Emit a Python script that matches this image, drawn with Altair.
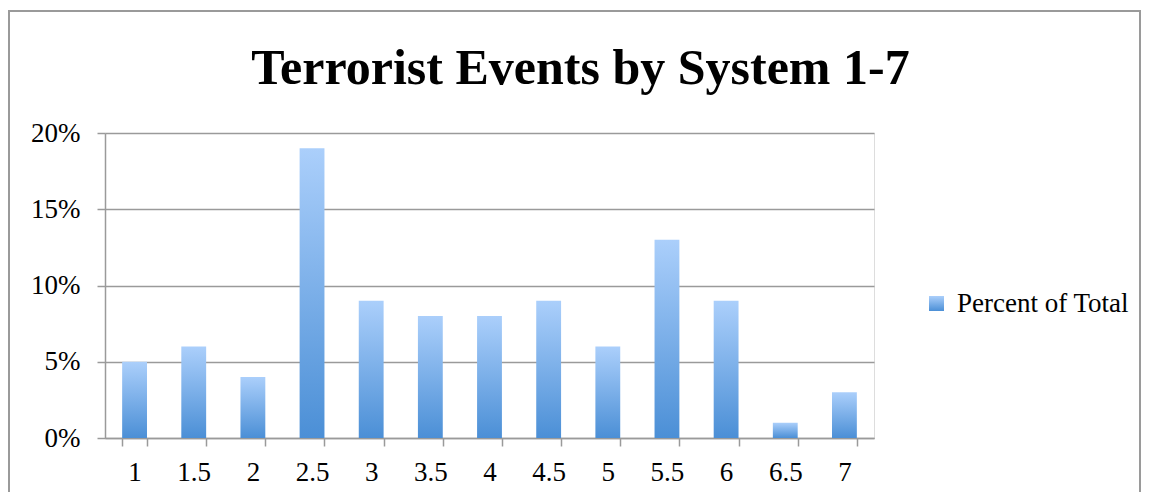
import altair as alt
import pandas as pd

categories = ["1", "1.5", "2", "2.5", "3", "3.5", "4", "4.5", "5", "5.5", "6", "6.5", "7"]
values = [0.05, 0.06, 0.04, 0.19, 0.09, 0.08, 0.08, 0.09, 0.06, 0.13, 0.09, 0.01, 0.03]
series_name = "Percent of Total"
y_ticks = [0, 0.05, 0.10, 0.15, 0.20]

df = pd.DataFrame({"system": categories, "pct": values, "series": [series_name] * len(categories)})

FONT = "Liberation Serif"
GRAY = "#9a9a9a"
grad_expr = ("{gradient:'linear', x1:0, y1:0, x2:0, y2:1, "
             "stops:[{offset:0,color:'#abcffb'},{offset:1,color:'#4b8fd6'}]}")

bars = alt.Chart(df).mark_bar().encode(
    x=alt.X("system:N", sort=categories,
            scale=alt.Scale(paddingInner=0.58, paddingOuter=0.29),
            axis=alt.Axis(title=None, labelAngle=0, tickBand="extent", ticks=True,
                          tickSize=8, tickColor=GRAY, tickWidth=1.5,
                          domainColor=GRAY, domainWidth=1.5, grid=False,
                          labelFont=FONT, labelFontSize=27, labelColor="black",
                          labelPadding=13)),
    y=alt.Y("pct:Q", scale=alt.Scale(domain=[0, 0.2]),
            axis=alt.Axis(title=None, values=y_ticks, format=".0%", grid=True,
                          gridColor=GRAY, gridWidth=1.5, domainColor=GRAY,
                          domainWidth=1.5, tickSize=8, tickColor=GRAY, tickWidth=1.5,
                          labelFont=FONT, labelFontSize=27, labelColor="black",
                          labelPadding=17)),
    color=alt.Color("series:N", scale=alt.Scale(range=[{"expr": grad_expr}]),
                    legend=alt.Legend(title=None, orient="none", legendX=818, legendY=157,
                                      symbolType="square", symbolSize=225,
                                      symbolStrokeWidth=0, labelFont=FONT,
                                      labelFontSize=27, labelColor="black",
                                      labelOffset=7, labelLimit=400)),
)

border = alt.Chart(pd.DataFrame({"a": [0]})).mark_rect(
    fillOpacity=0, stroke=GRAY, strokeWidth=2
).encode(
    x=alt.value(-96), x2=alt.value(1035), y=alt.value(-122), y2=alt.value(420)
)

chart = alt.layer(border, bars).properties(
    width=769, height=305,
    autosize=alt.AutoSizeParams(type="none"),
    padding={"left": 97, "top": 125, "right": 269, "bottom": 54},
    title=alt.TitleParams("Terrorist Events by System 1-7", font=FONT, fontSize=50,
                          fontWeight="bold", anchor="middle", frame="group", dx=91,
                          offset=-124, baseline="alphabetic", color="black"),
).configure_view(strokeWidth=0).configure(background="white")

chart.save("out.html", embed_options={"renderer": "svg", "actions": False})
